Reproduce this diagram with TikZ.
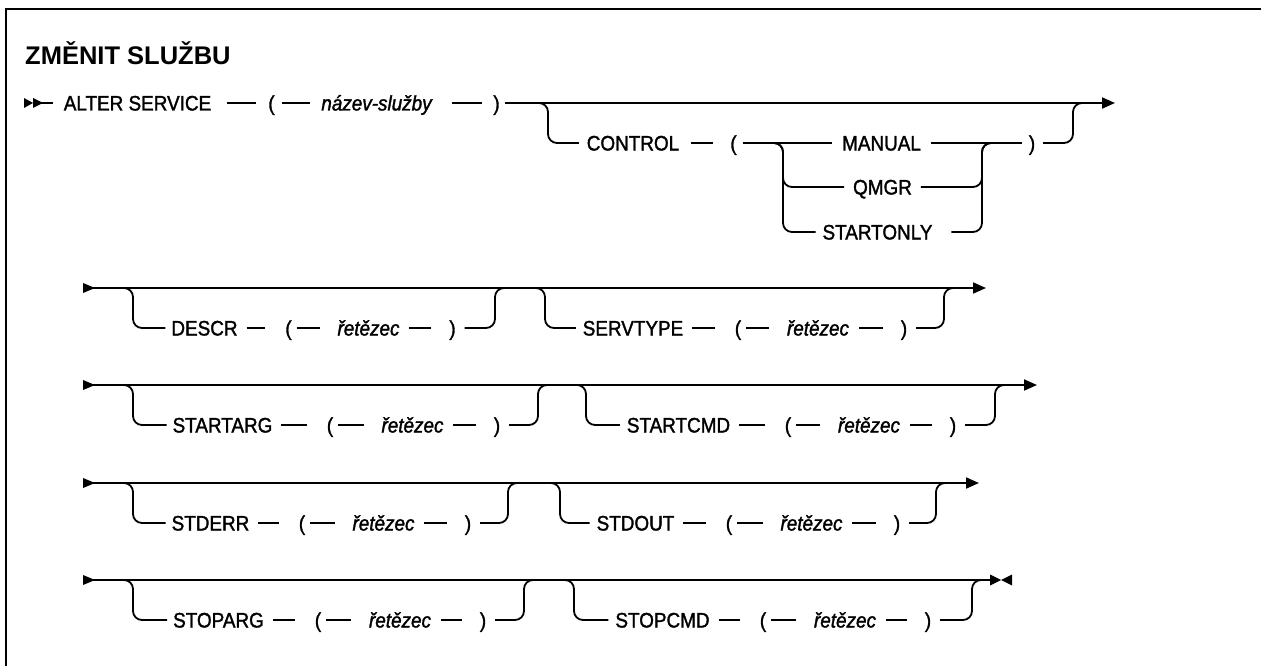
\documentclass[tikz,border=0pt]{standalone}
\usepackage{fontspec}
\newfontfamily\dfont{Liberation Sans}[FakeStretch=0.9,FakeBold=1.5]
\newfontfamily\tfont{Liberation Sans}
\usetikzlibrary{arrows.meta}
\begin{document}
\begin{tikzpicture}[x=1pt,y=-1pt,
  kwd/.style={inner sep=0pt,outer sep=0pt,text height=15pt,text depth=0pt,font=\dfont\fontsize{21}{25}\selectfont},
  vrb/.style={kwd,font=\dfont\itshape\fontsize{21}{25}\selectfont},
  ln/.style={line width=1.8pt},
  br/.style={ln,rounded corners=9pt},
  tip/.style={-{Triangle[length=13pt,width=11pt]}},
  frame/.style={line width=2.2pt}
]
\useasboundingbox (0,0) rectangle (1261,666);
% frame
\coordinate (fb) at (6,670);
\coordinate (ftl) at (6,9);
\coordinate (ftr) at (1265,9);
\draw[frame] (fb) -- (ftl) -- (ftr);
% title
\node[anchor=base west,inner sep=0pt,font=\tfont\bfseries\fontsize{25.5}{30}\selectfont] (title) at (25,65) {ZMĚNIT SLUŽBU};

% ---------- row 1 ----------
\fill (24,98) -- (33,103) -- (24,108) -- cycle;
\fill (33,98) -- (43,103) -- (33,108) -- cycle;
\coordinate (s1) at (33,103);
\node[kwd] (alter) at (137.5,103) {ALTER SERVICE};
\node[kwd] (p1o) at (271.5,103) {(};
\node[vrb] (nazev) at (376.5,103) {název-služby};
\node[kwd] (p1c) at (496.5,103) {)};
\coordinate (e1) at (1115,103);
\draw[ln, shorten >=11pt] (s1) -- (alter.west);
\draw[ln, shorten <=16pt, shorten >=12pt] (alter.east) -- (p1o.west);
\draw[ln, shorten <=7pt, shorten >=11pt] (p1o.east) -- (nazev.west);
\draw[ln, shorten <=20pt, shorten >=11pt] (nazev.east) -- (p1c.west);
\draw[ln, tip, shorten <=5pt] (p1c.east) -- (e1);

\node[kwd] (control) at (633,143) {CONTROL};
\node[kwd] (p2o) at (733.5,143) {(};
\node[kwd] (manual) at (881.5,143) {MANUAL};
\node[kwd] (qmgr) at (882.5,187) {QMGR};
\node[kwd] (startonly) at (877.5,232) {STARTONLY};
\node[kwd] (p2c) at (1032,143) {)};
\coordinate (b1a) at (538,103);
\coordinate (b1v) at (548,143);
\draw[br, shorten >=8pt] (b1a) -| (b1v) -- (control.west);
\draw[ln, shorten <=12pt, shorten >=17pt] (control.east) -- (p2o.west);
\draw[ln, shorten <=6pt, shorten >=10pt] (p2o.east) -- (manual.west);
\coordinate (c1a) at (773,143);
\coordinate (c1q) at (783,187);
\coordinate (c1s) at (783,232);
\draw[br, shorten >=9pt] (c1a) -| (c1q) -- (qmgr.west);
\draw[br, shorten >=7pt] (c1a) -| (c1s) -- (startonly.west);
\draw[ln, shorten <=10pt, shorten >=7pt] (manual.east) -- (p2c.west);
\coordinate (c2v) at (982,143);
\coordinate (c2e) at (992,143);
\draw[br, shorten <=9pt] (qmgr.east) -| (c2v) -- (c2e);
\draw[br, shorten <=19pt] (startonly.east) -| (c2v) -- (c2e);
\coordinate (m1v) at (1073,103);
\coordinate (m1e) at (1083,103);
\draw[br, shorten <=8pt] (p2c.east) -| (m1v) -- (m1e);

% ---------- main lines rows 2-5 ----------
\foreach \yy in {288,385,483,580}{
  \fill (83,\yy-5) -- (95,\yy) -- (83,\yy+5) -- cycle;
}
\coordinate (s2) at (83,288); \coordinate (e2) at (986,288);
\coordinate (s3) at (83,385); \coordinate (e3) at (1037,385);
\coordinate (s4) at (83,483); \coordinate (e4) at (979,483);
\coordinate (s5) at (83,580); \coordinate (e5) at (990,580);
\draw[ln, tip] (s2) -- (e2);
\draw[ln, tip] (s3) -- (e3);
\draw[ln, tip] (s4) -- (e4);
\draw[ln] (s5) -- (e5);
\fill (990,574.5) -- (1001,580) -- (990,585.5) -- cycle;
\fill (1012,574.5) -- (1001,580) -- (1012,585.5) -- cycle;

% ---------- optional groups rows 2-5 ----------
\foreach \rr/\yy/\kwa/\xa/\xb/\xc/\xd/\mma/\bbv/\kwb/\xe/\xf/\xg/\xh/\mmb in {
 2/288/DESCR/204.5/288.5/368.5/452.5/495/545/SERVTYPE/633/738/818/904/944,
 3/385/STARTARG/222.5/330/412.5/497/538/586/STARTCMD/678.5/788/869/953/995,
 4/483/STDERR/210.5/302/383.5/468/508/560/STDOUT/635.5/729/811.5/897/936,
 5/580/STOPARG/218.5/318/400/483/524/574/STOPCMD/662.5/763/845/928/972}{
  \pgfmathsetmacro\ylow{\yy+40}
  % first group
  \node[kwd] (ka\rr) at (\xa,\ylow) {\kwa};
  \node[kwd] (pa\rr) at (\xb,\ylow) {(};
  \node[vrb] (va\rr) at (\xc,\ylow) {řetězec};
  \node[kwd] (qa\rr) at (\xd,\ylow) {)};
  \coordinate (ba\rr) at (123,\yy);
  \coordinate (bv\rr) at (133,\ylow);
  \draw[br, shorten >=6pt] (ba\rr) -| (bv\rr) -- (ka\rr.west);
  \draw[ln, shorten <=9pt, shorten >=20pt] (ka\rr.east) -- (pa\rr.west);
  \draw[ln, shorten <=5pt, shorten >=18pt] (pa\rr.east) -- (va\rr.west);
  \draw[ln, shorten <=10pt, shorten >=18pt] (va\rr.east) -- (qa\rr.west);
  \coordinate (ma\rr) at (\mma,\yy);
  \coordinate (mae\rr) at (\mma+10,\yy);
  \draw[br, shorten <=9pt] (qa\rr.east) -| (ma\rr) -- (mae\rr);
  % second group
  \node[kwd] (kb\rr) at (\xe,\ylow) {\kwb};
  \node[kwd] (pb\rr) at (\xf,\ylow) {(};
  \node[vrb] (vb\rr) at (\xg,\ylow) {řetězec};
  \node[kwd] (qb\rr) at (\xh,\ylow) {)};
  \coordinate (bb\rr) at (\bbv-10,\yy);
  \coordinate (bw\rr) at (\bbv,\ylow);
  \draw[br, shorten >=7pt] (bb\rr) -| (bw\rr) -- (kb\rr.west);
  \draw[ln, shorten <=9pt, shorten >=20pt] (kb\rr.east) -- (pb\rr.west);
  \draw[ln, shorten <=5pt, shorten >=18pt] (pb\rr.east) -- (vb\rr.west);
  \draw[ln, shorten <=10pt, shorten >=18pt] (vb\rr.east) -- (qb\rr.west);
  \coordinate (mb\rr) at (\mmb,\yy);
  \coordinate (mbe\rr) at (\mmb+10,\yy);
  \draw[br, shorten <=9pt] (qb\rr.east) -| (mb\rr) -- (mbe\rr);
}
\end{tikzpicture}
\end{document}
